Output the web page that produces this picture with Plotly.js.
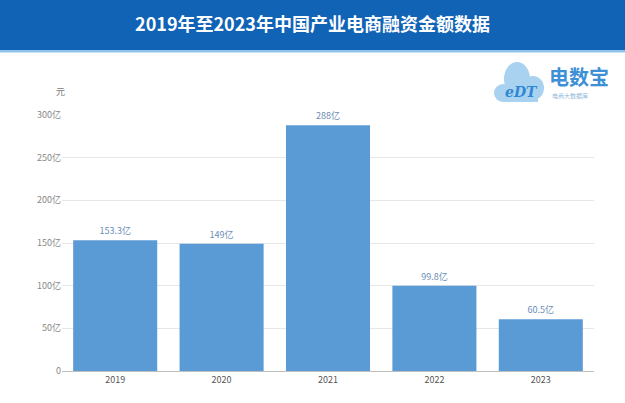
<!DOCTYPE html>
<html><head><meta charset="utf-8">
<script src="https://cdn.plot.ly/plotly-3.0.1.min.js"></script>
<style>html,body{margin:0;padding:0;background:#fff;}#chart{width:625px;height:403px;}</style>
</head><body><div id="chart"></div>
<script>
const years = ['2019','2020','2021','2022','2023'];
const amounts = [153.3, 149, 288, 99.8, 60.5];
const amountLabels = ['153.3亿','149亿','288亿','99.8亿','60.5亿'];
const tickVals = [0,50,100,150,200,250,300];
const tickTexts = ['0','50亿','100亿','150亿','200亿','250亿','300亿'];
const titleText = '2019年至2023年中国产业电商融资金额数据';

const L=62, R=594, T=115, B=371;
const px = x => (x-L)/(R-L);
const py = y => (B-y)/(B-T);
const F = '"Noto Sans CJK SC","Noto Sans",sans-serif';

const shapes = [
  {type:'rect',xref:'paper',yref:'paper',x0:px(-5),x1:px(630),y0:py(50),y1:py(-5),fillcolor:'#1163b6',line:{width:0},layer:'below'},
  {type:'rect',xref:'paper',yref:'paper',x0:px(-5),x1:px(630),y0:py(52.5),y1:py(50),fillcolor:'#8fc3ea',line:{width:0},layer:'below'},
  // cloud logo
  {type:'circle',xref:'paper',yref:'paper',x0:px(494),x1:px(512),y0:py(102),y1:py(84),fillcolor:'#a8d2ef',line:{width:0}},
  {type:'circle',xref:'paper',yref:'paper',x0:px(504),x1:px(530),y0:py(96),y1:py(62),fillcolor:'#a8d2ef',line:{width:0}},
  {type:'circle',xref:'paper',yref:'paper',x0:px(522),x1:px(544),y0:py(100),y1:py(76),fillcolor:'#a8d2ef',line:{width:0}},
  {type:'rect',xref:'paper',yref:'paper',x0:px(503),x1:px(538),y0:py(102),y1:py(88),fillcolor:'#a8d2ef',line:{width:0}}
];

const annotations = [
  {xref:'paper',yref:'paper',x:px(60),y:py(91),text:'元',showarrow:false,font:{family:F,size:9,color:'#777'},xanchor:'center',yanchor:'middle'},
  {xref:'paper',yref:'paper',x:px(521),y:py(92),text:'<b><i>eDT</i></b>',showarrow:false,font:{family:'"DejaVu Serif",serif',size:14,color:'#2f86d2'},xanchor:'center',yanchor:'middle'},
  {xref:'paper',yref:'paper',x:px(547),y:py(76),text:'<b>电数宝</b>',showarrow:false,font:{family:F,size:20,color:'#3d8fd6'},xanchor:'left',yanchor:'middle'},
  {xref:'paper',yref:'paper',x:px(550),y:py(95),text:'电商大数据库',showarrow:false,font:{family:F,size:6,color:'#8fb8dc'},xanchor:'left',yanchor:'middle'}
];

const trace = {
  type:'bar', x:years, y:amounts, text:amountLabels, textposition:'outside',
  textfont:{family:F,size:9,color:'#6b8db8'}, cliponaxis:false,
  marker:{color:'#5b9bd5',line:{width:0}}, hoverinfo:'none'
};

const layout = {
  width:625, height:403,
  margin:{l:L,r:625-R,t:T,b:403-B,pad:0},
  paper_bgcolor:'#ffffff', plot_bgcolor:'#ffffff',
  title:{text:'<b>'+titleText+'</b>',font:{family:F,size:18,color:'#ffffff'},x:0.5,xanchor:'center',y:1-25/403,yanchor:'middle',yref:'container'},
  bargap:0.21,
  showlegend:false,
  xaxis:{type:'category',showgrid:false,showline:true,linecolor:'#bfbfbf',linewidth:1,ticks:'',
         tickfont:{family:F,size:9,color:'#555'},fixedrange:true},
  yaxis:{range:[0,300],tickvals:tickVals,ticktext:tickTexts,showgrid:true,gridcolor:'#e6e6e6',gridwidth:1,
         zeroline:false,showline:false,ticks:'',ticklen:4,tickfont:{family:F,size:9,color:'#888'},fixedrange:true},
  shapes:shapes, annotations:annotations
};
Plotly.newPlot('chart',[trace],layout,{displayModeBar:false,staticPlot:true});
</script></body></html>
